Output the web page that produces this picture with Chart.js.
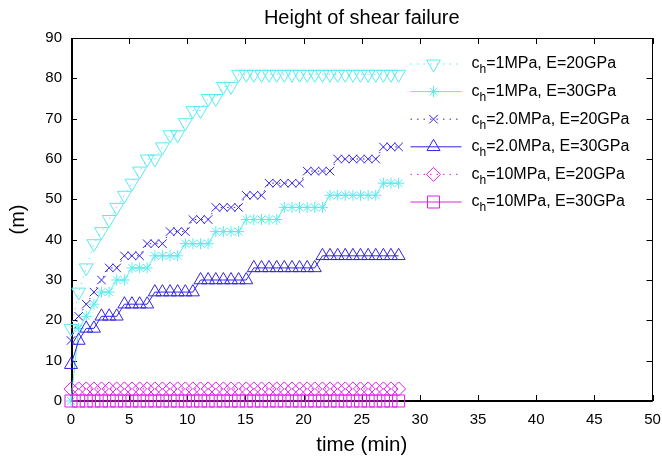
<!DOCTYPE html>
<html><head><meta charset="utf-8">
<script src="https://cdn.jsdelivr.net/npm/chart.js@4.4.1/dist/chart.umd.min.js"></script>
<style>html,body{margin:0;padding:0;background:#fff;}#wrap{width:662px;height:462px;}</style>
</head><body><div id="wrap"><canvas id="c" width="662" height="462"></canvas></div>
<script>
// time (min)
const timeMin = [0, 0.66, 1.31, 1.97, 2.62, 3.28, 3.93, 4.59, 5.24, 5.9, 6.55, 7.21, 7.86, 8.52, 9.17, 9.83, 10.48, 11.14, 11.79, 12.45, 13.1, 13.76, 14.41, 15.07, 15.72, 16.38, 17.03, 17.69, 18.34, 19, 19.65, 20.31, 20.96, 21.62, 22.27, 22.93, 23.58, 24.24, 24.89, 25.55, 26.2, 26.86, 27.51, 28.17];
// heights (m)
const h1MPa20GPa = [18, 27, 33, 39, 42, 45, 48, 51, 54, 57, 60, 60, 63, 66, 66, 69, 72, 72, 75, 75, 78, 78, 81, 81, 81, 81, 81, 81, 81, 81, 81, 81, 81, 81, 81, 81, 81, 81, 81, 81, 81, 81, 81, 81];
const h1MPa30GPa = [0, 18, 21, 24, 27, 27, 30, 30, 33, 33, 33, 36, 36, 36, 36, 39, 39, 39, 39, 42, 42, 42, 42, 45, 45, 45, 45, 45, 48, 48, 48, 48, 48, 48, 51, 51, 51, 51, 51, 51, 51, 54, 54, 54];
const h2MPa20GPa = [15, 21, 24, 27, 30, 33, 33, 36, 36, 36, 39, 39, 39, 42, 42, 42, 45, 45, 45, 48, 48, 48, 48, 51, 51, 51, 54, 54, 54, 54, 54, 57, 57, 57, 57, 60, 60, 60, 60, 60, 60, 63, 63, 63];
const h2MPa30GPa = [9, 15, 18, 18, 21, 21, 21, 24, 24, 24, 24, 27, 27, 27, 27, 27, 27, 30, 30, 30, 30, 30, 30, 30, 33, 33, 33, 33, 33, 33, 33, 33, 33, 36, 36, 36, 36, 36, 36, 36, 36, 36, 36, 36];
const h10MPa20GPa = [3, 3, 3, 3, 3, 3, 3, 3, 3, 3, 3, 3, 3, 3, 3, 3, 3, 3, 3, 3, 3, 3, 3, 3, 3, 3, 3, 3, 3, 3, 3, 3, 3, 3, 3, 3, 3, 3, 3, 3, 3, 3, 3, 3];
const h10MPa30GPa = [0, 0, 0, 0, 0, 0, 0, 0, 0, 0, 0, 0, 0, 0, 0, 0, 0, 0, 0, 0, 0, 0, 0, 0, 0, 0, 0, 0, 0, 0, 0, 0, 0, 0, 0, 0, 0, 0, 0, 0, 0, 0, 0, 0];
const seriesLabels = ['cₕ=1MPa, E=20GPa', 'cₕ=1MPa, E=30GPa', 'cₕ=2.0MPa, E=20GPa', 'cₕ=2.0MPa, E=30GPa', 'cₕ=10MPa, E=20GPa', 'cₕ=10MPa, E=30GPa'];
const xTickValues = [0, 5, 10, 15, 20, 25, 30, 35, 40, 45, 50];
const yTickValues = [0, 10, 20, 30, 40, 50, 60, 70, 80, 90];

const FONT = '"Liberation Sans", Arial, Helvetica, sans-serif';
const CYAN = 'rgb(90,235,240)', BLUE = 'rgb(50,35,230)', MAG = 'rgb(225,30,235)';
const DOT = [1.5, 5];

function pts(vals) { return timeMin.map((t, i) => ({x: t, y: vals[i]})); }
function ds(i, vals, color, dash, style, rot, r) {
  return {
    label: seriesLabels[i], data: pts(vals), borderColor: color, backgroundColor: color,
    borderWidth: 1, borderDash: dash, pointStyle: style, pointRotation: rot, pointRadius: r,
    pointBorderColor: color, pointBackgroundColor: 'rgba(0,0,0,0)', pointBorderWidth: 1,
    pointHoverRadius: r, tension: 0, fill: false, clip: false, order: 10 - i
  };
}

const frame = {
  id: 'frame',
  beforeDatasetsDraw(chart) {
    const {ctx, chartArea: a, scales: {x, y}} = chart;
    ctx.save();
    ctx.strokeStyle = '#000';
    ctx.lineWidth = 1;
    const L = 6;
    ctx.beginPath();
    x.ticks.forEach((t, i) => {
      const p = Math.round(x.getPixelForTick(i)) + 0.5;
      ctx.moveTo(p, a.bottom); ctx.lineTo(p, a.bottom - L);
      ctx.moveTo(p, a.top); ctx.lineTo(p, a.top + L);
    });
    y.ticks.forEach((t, i) => {
      const p = Math.round(y.getPixelForTick(i)) + 0.5;
      ctx.moveTo(a.left, p); ctx.lineTo(a.left + L, p);
      ctx.moveTo(a.right, p); ctx.lineTo(a.right - L, p);
    });
    ctx.stroke();
    ctx.strokeRect(Math.round(a.left) + 0.5, Math.round(a.top) + 0.5, Math.round(a.width) - 1, Math.round(a.height) - 1);
    ctx.lineWidth = 2;
    ctx.beginPath();
    ctx.moveTo(Math.round(a.left) + 1, a.top); ctx.lineTo(Math.round(a.left) + 1, Math.round(a.bottom));
    ctx.lineTo(a.right, Math.round(a.bottom));
    ctx.stroke();
    ctx.restore();
  }
};

const gpLegend = {
  id: 'gpLegend',
  afterDatasetsDraw(chart) {
    const {ctx, chartArea: a} = chart;
    const H = Chart.helpers;
    chart.data.datasets.forEach((d, i) => {
      const y = a.top + 26 + i * 27.6;
      const x0 = a.right - 242, x1 = a.right - 191, xm = a.right - 219, xt = a.right - 181;
      ctx.save();
      ctx.strokeStyle = d.borderColor; ctx.lineWidth = 1;
      ctx.setLineDash(d.borderDash || []);
      ctx.beginPath(); ctx.moveTo(x0, y); ctx.lineTo(x1, y); ctx.stroke();
      ctx.setLineDash([]);
      ctx.fillStyle = 'rgba(0,0,0,0)';
      H.drawPoint(ctx, {pointStyle: d.pointStyle, rotation: d.pointRotation || 0, radius: d.pointRadius, borderWidth: 1}, xm, y);
      ctx.fillStyle = '#000'; ctx.textBaseline = 'middle'; ctx.textAlign = 'left';
      const parts = d.label.split('ₕ');
      ctx.font = '16px ' + FONT;
      ctx.fillText(parts[0], xt, y);
      let xx = xt + ctx.measureText(parts[0]).width;
      ctx.font = '12px ' + FONT;
      ctx.fillText('h', xx, y + 6);
      xx += ctx.measureText('h').width;
      ctx.font = '16px ' + FONT;
      ctx.fillText(parts[1], xx, y);
      ctx.restore();
    });
  }
};

new Chart(document.getElementById('c'), {
  type: 'line',
  data: {
    datasets: [
      ds(0, h1MPa20GPa, CYAN, DOT, 'triangle', 180, 8),
      ds(1, h1MPa30GPa, CYAN, [], 'star', 0, 5.5),
      ds(2, h2MPa20GPa, BLUE, DOT, 'crossRot', 0, 6),
      ds(3, h2MPa30GPa, BLUE, [], 'triangle', 0, 7.5),
      ds(4, h10MPa20GPa, MAG, DOT, 'rectRot', 0, 7),
      ds(5, h10MPa30GPa, MAG, [], 'rect', 0, 8.5)
    ]
  },
  options: {
    responsive: false, animation: false, devicePixelRatio: 1, events: [],
    layout: {padding: {left: 0, right: 8, top: 0, bottom: 0}},
    plugins: {
      legend: {display: false}, tooltip: {enabled: false},
      title: {display: true, fullSize: false, text: 'Height of shear failure', color: '#000',
        font: {family: FONT, size: 20, weight: 'normal'}, padding: {top: 6, bottom: 8}}
    },
    scales: {
      x: {
        type: 'linear', min: 0, max: 50,
        afterBuildTicks: s => { s.ticks = xTickValues.map(v => ({value: v})); },
        afterFit: s => { s.height = 61; s.paddingLeft = 0; s.paddingRight = 0; },
        grid: {display: false, drawTicks: false}, border: {display: false},
        ticks: {color: '#000', padding: 10, maxRotation: 0, font: {family: FONT, size: 15}},
        title: {display: true, text: 'time (min)', color: '#000', font: {family: FONT, size: 20.5}, padding: {top: 4, bottom: 4}}
      },
      y: {
        type: 'linear', min: 0, max: 90,
        afterBuildTicks: s => { s.ticks = yTickValues.map(v => ({value: v})); },
        afterFit: s => { s.width = 71; s.paddingTop = 0; s.paddingBottom = 0; },
        grid: {display: false, drawTicks: false}, border: {display: false},
        ticks: {color: '#000', padding: 9, font: {family: FONT, size: 15}},
        title: {display: true, text: '(m)', color: '#000', font: {family: FONT, size: 20}, padding: {top: 6, bottom: 4}}
      }
    }
  },
  plugins: [frame, gpLegend]
});
</script></body></html>
